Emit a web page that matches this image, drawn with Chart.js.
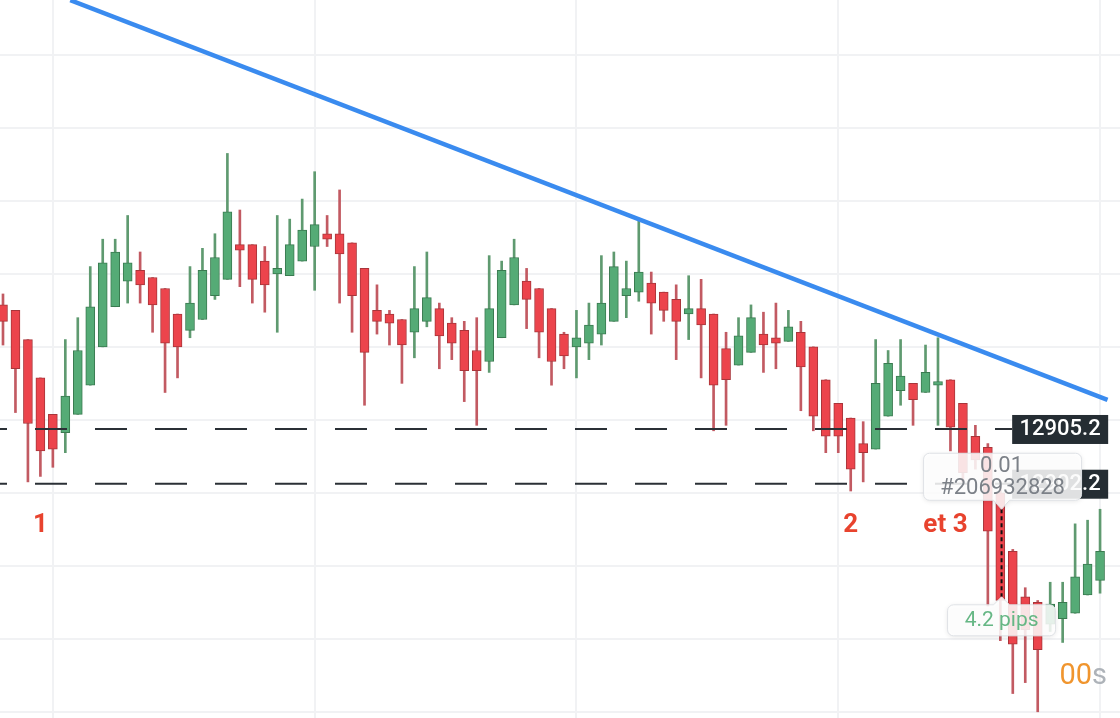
<!DOCTYPE html>
<html>
<head>
<meta charset="utf-8">
<script src="https://cdn.jsdelivr.net/npm/chart.js@4.4.1/dist/chart.umd.min.js"></script>
<style>
  html, body { margin: 0; padding: 0; background: #fff; }
  #wrap { width: 1120px; height: 718px; }
</style>
</head>
<body>
<div id="wrap"><canvas id="candles"></canvas></div>
<script>
// OHLC, one entry per candle
const opens = [12912.0, 12911.7, 12910.1, 12908.0, 12906.0, 12905.0, 12906.0, 12907.6, 12909.7, 12911.9,
  12913.3, 12913.9, 12913.5, 12912.9, 12911.5, 12910.6, 12911.2, 12912.5, 12913.4, 12915.3,
  12915.3, 12914.4, 12913.7, 12913.6, 12914.4, 12915.2, 12915.9, 12915.9, 12915.4, 12914.0,
  12911.7, 12911.5, 12911.2, 12910.5, 12911.1, 12911.8, 12911.0, 12910.6, 12909.5, 12908.9,
  12910.2, 12912.0, 12913.3, 12912.9, 12911.8, 12910.4, 12909.7, 12909.9, 12910.4, 12911.1,
  12912.5, 12912.7, 12913.2, 12912.7, 12912.3, 12911.5, 12911.8, 12911.5, 12909.6, 12908.7,
  12909.4, 12910.4, 12910.2, 12910.0, 12910.5, 12909.7, 12907.9, 12906.6, 12905.8, 12904.4,
  12904.1, 12905.9, 12907.3, 12907.7, 12907.2, 12907.6, 12907.9, 12906.6, 12904.8, 12904.2,
  12901.7, 12898.5, 12896.0, 12895.7, 12894.5, 12894.8, 12895.1, 12896.1, 12896.9];
const highs = [12912.6, 12911.7, 12910.1, 12908.0, 12906.0, 12910.1, 12911.3, 12914.1, 12915.6, 12915.6,
  12916.9, 12914.9, 12913.5, 12912.9, 12911.5, 12914.1, 12915.1, 12915.9, 12920.3, 12917.2,
  12915.3, 12915.2, 12916.9, 12916.7, 12917.8, 12919.3, 12916.9, 12918.3, 12915.4, 12914.0,
  12913.1, 12911.7, 12911.2, 12914.1, 12914.9, 12912.1, 12911.3, 12911.1, 12911.3, 12914.7,
  12914.4, 12915.6, 12914.0, 12912.9, 12911.8, 12910.5, 12911.7, 12912.1, 12914.7, 12914.9,
  12914.4, 12916.7, 12913.8, 12912.7, 12913.1, 12913.6, 12913.4, 12911.5, 12910.5, 12911.3,
  12912.0, 12911.6, 12912.1, 12911.7, 12911.1, 12909.7, 12907.9, 12906.6, 12905.8, 12905.6,
  12910.1, 12909.5, 12910.1, 12907.7, 12909.8, 12910.2, 12907.9, 12906.6, 12905.4, 12904.4,
  12902.3, 12898.6, 12896.5, 12895.8, 12896.8, 12896.8, 12900.0, 12900.2, 12900.8];
const lows = [12909.8, 12906.1, 12902.3, 12902.6, 12903.1, 12903.9, 12906.0, 12907.6, 12909.7, 12911.9,
  12912.1, 12912.1, 12910.5, 12907.2, 12908.0, 12910.2, 12911.2, 12912.3, 12913.4, 12913.0,
  12912.1, 12911.6, 12910.5, 12913.6, 12914.4, 12912.8, 12915.2, 12912.1, 12910.5, 12906.5,
  12910.4, 12909.8, 12907.7, 12909.1, 12910.8, 12908.5, 12909.0, 12906.7, 12905.4, 12908.3,
  12910.2, 12912.0, 12910.7, 12909.1, 12907.6, 12908.5, 12908.0, 12909.0, 12909.8, 12911.1,
  12911.3, 12912.2, 12910.4, 12911.1, 12909.0, 12910.1, 12908.0, 12905.1, 12905.4, 12908.7,
  12909.4, 12908.3, 12908.5, 12910.0, 12906.2, 12905.1, 12903.9, 12903.9, 12901.8, 12902.3,
  12904.1, 12905.9, 12906.5, 12905.4, 12907.2, 12905.4, 12904.0, 12902.3, 12903.0, 12895.5,
  12893.6, 12890.7, 12891.3, 12889.7, 12894.1, 12893.5, 12895.1, 12896.1, 12896.2];
const closes = [12911.1, 12908.5, 12905.5, 12904.0, 12904.1, 12907.0, 12909.5, 12911.9, 12914.3, 12914.9,
  12914.3, 12913.1, 12912.0, 12909.9, 12909.7, 12912.1, 12913.9, 12914.6, 12917.1, 12915.0,
  12913.4, 12913.1, 12914.0, 12915.3, 12916.1, 12916.4, 12915.6, 12914.8, 12912.5, 12909.4,
  12911.1, 12911.0, 12909.8, 12911.8, 12912.4, 12910.3, 12909.9, 12908.4, 12908.4, 12911.8,
  12913.9, 12914.6, 12912.3, 12910.5, 12908.9, 12909.2, 12910.2, 12910.9, 12912.1, 12914.1,
  12912.9, 12913.8, 12912.1, 12911.7, 12911.1, 12911.8, 12910.9, 12907.6, 12907.9, 12910.3,
  12911.3, 12909.8, 12909.9, 12910.8, 12908.6, 12905.9, 12904.8, 12904.8, 12903.0, 12903.9,
  12907.7, 12908.8, 12908.1, 12906.8, 12908.3, 12907.8, 12905.3, 12902.8, 12903.5, 12899.6,
  12895.8, 12893.4, 12894.2, 12893.1, 12895.6, 12895.7, 12897.1, 12897.8, 12898.5];

const viewCandles = [-0.24, 89.6];          // visible candle range
const viewPrices = [12889.36, 12928.71];    // visible price range
const gridCandles = [4, 25, 46, 67, 88];
const gridPrices = [12889.7, 12893.7, 12897.7, 12901.7, 12905.7, 12909.7, 12913.7, 12917.7, 12921.7, 12925.7];
const levelPrices = [12905.2, 12902.2];
const levelLabels = ['12905.2', '12902.2'];
const levelEnd = 80.95;
const trendCandles = [5.4, 88.6];
const trendPrices = [12928.7, 12906.8];
const markLabels = ['1', '2', 'et 3'];
const markCandles = [3, 68, 75.6];
const orderLines = ['0.01', '#206932828'];
const pipsText = '4.2 pips';
const measureCandle = 80.1;
const measurePrices = [12900.8, 12896.0];

const up = closes.map((c, i) => c >= opens[i]);

function bubble(ctx, x, y, w, h, r, tipX, tipY) {
  const down = tipY > y + h;
  ctx.beginPath();
  ctx.moveTo(x + r, y);
  if (!down) { ctx.lineTo(tipX - 8, y); ctx.lineTo(tipX, tipY); ctx.lineTo(tipX + 8, y); }
  ctx.lineTo(x + w - r, y);
  ctx.arcTo(x + w, y, x + w, y + r, r);
  ctx.lineTo(x + w, y + h - r);
  ctx.arcTo(x + w, y + h, x + w - r, y + h, r);
  if (down) { ctx.lineTo(tipX + 8, y + h); ctx.lineTo(tipX, tipY); ctx.lineTo(tipX - 8, y + h); }
  ctx.lineTo(x + r, y + h);
  ctx.arcTo(x, y + h, x, y + h - r, r);
  ctx.lineTo(x, y + r);
  ctx.arcTo(x, y, x + r, y, r);
  ctx.closePath();
}

function paintBubble(ctx) {
  ctx.save();
  ctx.shadowColor = 'rgba(0,0,0,0.12)';
  ctx.shadowBlur = 5;
  ctx.shadowOffsetY = 1;
  ctx.fillStyle = 'rgba(255,255,255,0.86)';
  ctx.fill();
  ctx.restore();
  ctx.strokeStyle = '#dfe2e6';
  ctx.lineWidth = 1;
  ctx.stroke();
}

const overlay = {
  id: 'overlay',
  afterDatasetsDraw(chart) {
    const ctx = chart.ctx;
    const xs = chart.scales.x, ys = chart.scales.y;
    ctx.save();

    // price tags at the end of the dashed levels
    const tagLeft = xs.getPixelForValue(levelEnd);
    levelPrices.forEach((p, i) => {
      const py = ys.getPixelForValue(p);
      ctx.fillStyle = '#252d33';
      ctx.fillRect(tagLeft, py - 14, 96, 29);
      ctx.fillStyle = '#ffffff';
      ctx.font = '500 22px Roboto';
      ctx.textAlign = 'center';
      ctx.textBaseline = 'middle';
      ctx.fillText(levelLabels[i], tagLeft + 48, py + 1);
    });

    // order tooltip + pips measurement
    const mx = xs.getPixelForValue(measureCandle);
    const topY = ys.getPixelForValue(measurePrices[0]);
    const botY = ys.getPixelForValue(measurePrices[1]);

    ctx.strokeStyle = '#111';
    ctx.lineWidth = 2;
    ctx.setLineDash([4, 3]);
    ctx.beginPath();
    ctx.moveTo(mx, topY);
    ctx.lineTo(mx, botY);
    ctx.stroke();
    ctx.setLineDash([]);

    bubble(ctx, mx - 78, topY - 56, 158, 47, 6, mx, topY);
    paintBubble(ctx);
    ctx.fillStyle = '#7c8188';
    ctx.font = '22px Roboto';
    ctx.textAlign = 'center';
    ctx.textBaseline = 'middle';
    ctx.fillText(orderLines[0], mx, topY - 43);
    ctx.fillText(orderLines[1], mx + 1, topY - 21);

    bubble(ctx, mx - 54, botY + 8, 108, 31, 6, mx, botY);
    paintBubble(ctx);
    ctx.fillStyle = '#66b785';
    ctx.font = '21px Roboto';
    ctx.fillText(pipsText, mx, botY + 24);

    // red wave labels
    const markY = ys.getPixelForValue(levelPrices[1]) + 48;
    ctx.fillStyle = '#e8432e';
    ctx.font = 'bold 26px Roboto';
    ctx.textBaseline = 'alphabetic';
    markLabels.forEach((t, i) => {
      ctx.fillText(t, xs.getPixelForValue(markCandles[i]), markY);
    });

    // countdown
    const area = chart.chartArea;
    ctx.font = '29px Roboto';
    ctx.textAlign = 'right';
    ctx.fillStyle = '#aeb3b9';
    const sW = ctx.measureText('s').width;
    ctx.fillText('s', area.right - 13, area.bottom - 34);
    ctx.fillStyle = '#f0952e';
    ctx.fillText('00', area.right - 13 - sW, area.bottom - 34);

    ctx.restore();
  }
};

const gridOpts = { color: '#f1f2f4', lineWidth: 2, drawTicks: false, offset: false };

new Chart(document.getElementById('candles'), {
  type: 'bar',
  data: {
    datasets: [
      {
        type: 'line',
        data: trendCandles.map((c, i) => ({ x: c, y: trendPrices[i] })),
        borderColor: '#3a8bef',
        borderWidth: 4.5,
        pointRadius: 0,
        order: 0
      },
      ...levelPrices.map(p => ({
        type: 'line',
        data: [{ x: viewCandles[0], y: p }, { x: levelEnd, y: p }],
        borderColor: '#2b3036',
        borderWidth: 2,
        borderDash: [32, 28],
        borderDashOffset: 25,
        pointRadius: 0,
        order: 1
      })),
      {
        // candle bodies
        data: opens.map((o, i) => ({ x: i, y: [o, closes[i]] })),
        backgroundColor: up.map(u => u ? '#55ab76' : '#ec444c'),
        borderColor: up.map(u => u ? '#3a7a50' : '#a8353a'),
        borderWidth: 1,
        borderSkipped: false,
        barThickness: 9,
        minBarLength: 2,
        grouped: false,
        order: 2
      },
      {
        // wicks
        data: lows.map((l, i) => ({ x: i, y: [l, highs[i]] })),
        backgroundColor: up.map(u => u ? '#5f9a70' : '#c25a62'),
        borderWidth: 0,
        barThickness: 2,
        grouped: false,
        order: 3
      }
    ]
  },
  options: {
    responsive: true,
    maintainAspectRatio: false,
    animation: false,
    events: [],
    layout: { padding: 0, autoPadding: false },
    plugins: { legend: { display: false }, tooltip: { enabled: false } },
    scales: {
      x: {
        type: 'linear',
        min: viewCandles[0],
        max: viewCandles[1],
        offset: false,
        grid: gridOpts,
        border: { display: false },
        ticks: { display: false },
        afterBuildTicks: s => { s.ticks = gridCandles.map(v => ({ value: v })); }
      },
      y: {
        type: 'linear',
        min: viewPrices[0],
        max: viewPrices[1],
        beginAtZero: false,
        grid: gridOpts,
        border: { display: false },
        ticks: { display: false },
        afterBuildTicks: s => { s.ticks = gridPrices.map(v => ({ value: v })); }
      }
    }
  },
  plugins: [overlay]
});
</script>
</body>
</html>
